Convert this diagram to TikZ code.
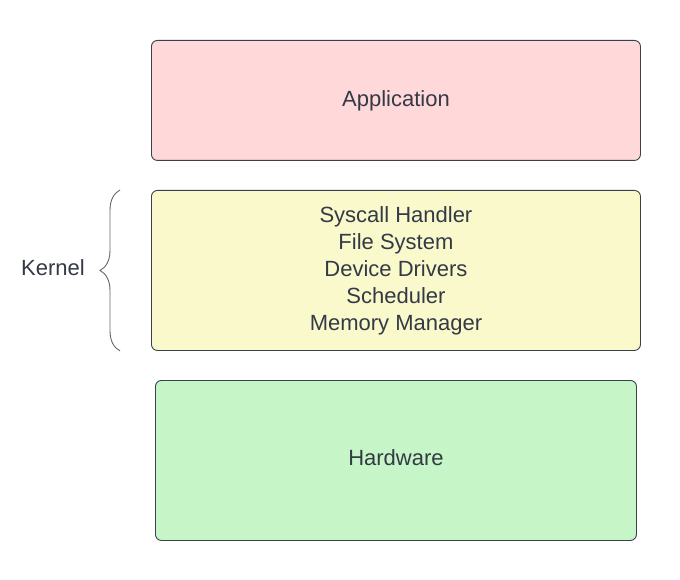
\documentclass[tikz,border=0pt]{standalone}
\usepackage{fontspec}
\setmainfont{Liberation Sans}
\usetikzlibrary{decorations.pathreplacing}

\definecolor{appfill}{RGB}{255,217,217}
\definecolor{kernfill}{RGB}{250,249,204}
\definecolor{hwfill}{RGB}{198,246,200}
\definecolor{linegray}{RGB}{58,65,74}
\definecolor{textgray}{RGB}{51,58,69}

\tikzset{
    layer/.style = {draw=linegray, line width=0.9pt, rounded corners=6pt,
                    text=textgray, align=center, inner sep=0pt, anchor=north west,
                    font=\fontsize{22}{27}\selectfont},
    bracket/.style = {draw=linegray!80, line width=0.9pt,
                      decorate, decoration={brace, amplitude=20pt}}
}

\begin{document}
\begin{tikzpicture}[x=1pt, y=-1pt]% [ show background grid ]
    \useasboundingbox (0,0) rectangle (680,580);

    \node[layer, fill=appfill, minimum width=489pt, minimum height=120pt] (app) at (151,40) {\raisebox{1pt}{Application}};
    \node[layer, fill=kernfill, minimum width=489pt, minimum height=160pt] (kernel) at (151,190)
        {Syscall Handler\\ File System\\ Device Drivers\\ Scheduler\\ Memory Manager};
    \node[layer, fill=hwfill, minimum width=481pt, minimum height=160pt] (hw) at (155,380) {\raisebox{5pt}{Hardware}};

    \coordinate (kbottom) at ([xshift=-31pt]kernel.south west);
    \coordinate (ktop) at ([xshift=-31pt]kernel.north west);
    \draw[bracket] (kbottom) -- (ktop);
    \node[text=textgray, font=\fontsize{22}{27}\selectfont] (klabel) at (53,268) {Kernel};

\end{tikzpicture}
\end{document}
